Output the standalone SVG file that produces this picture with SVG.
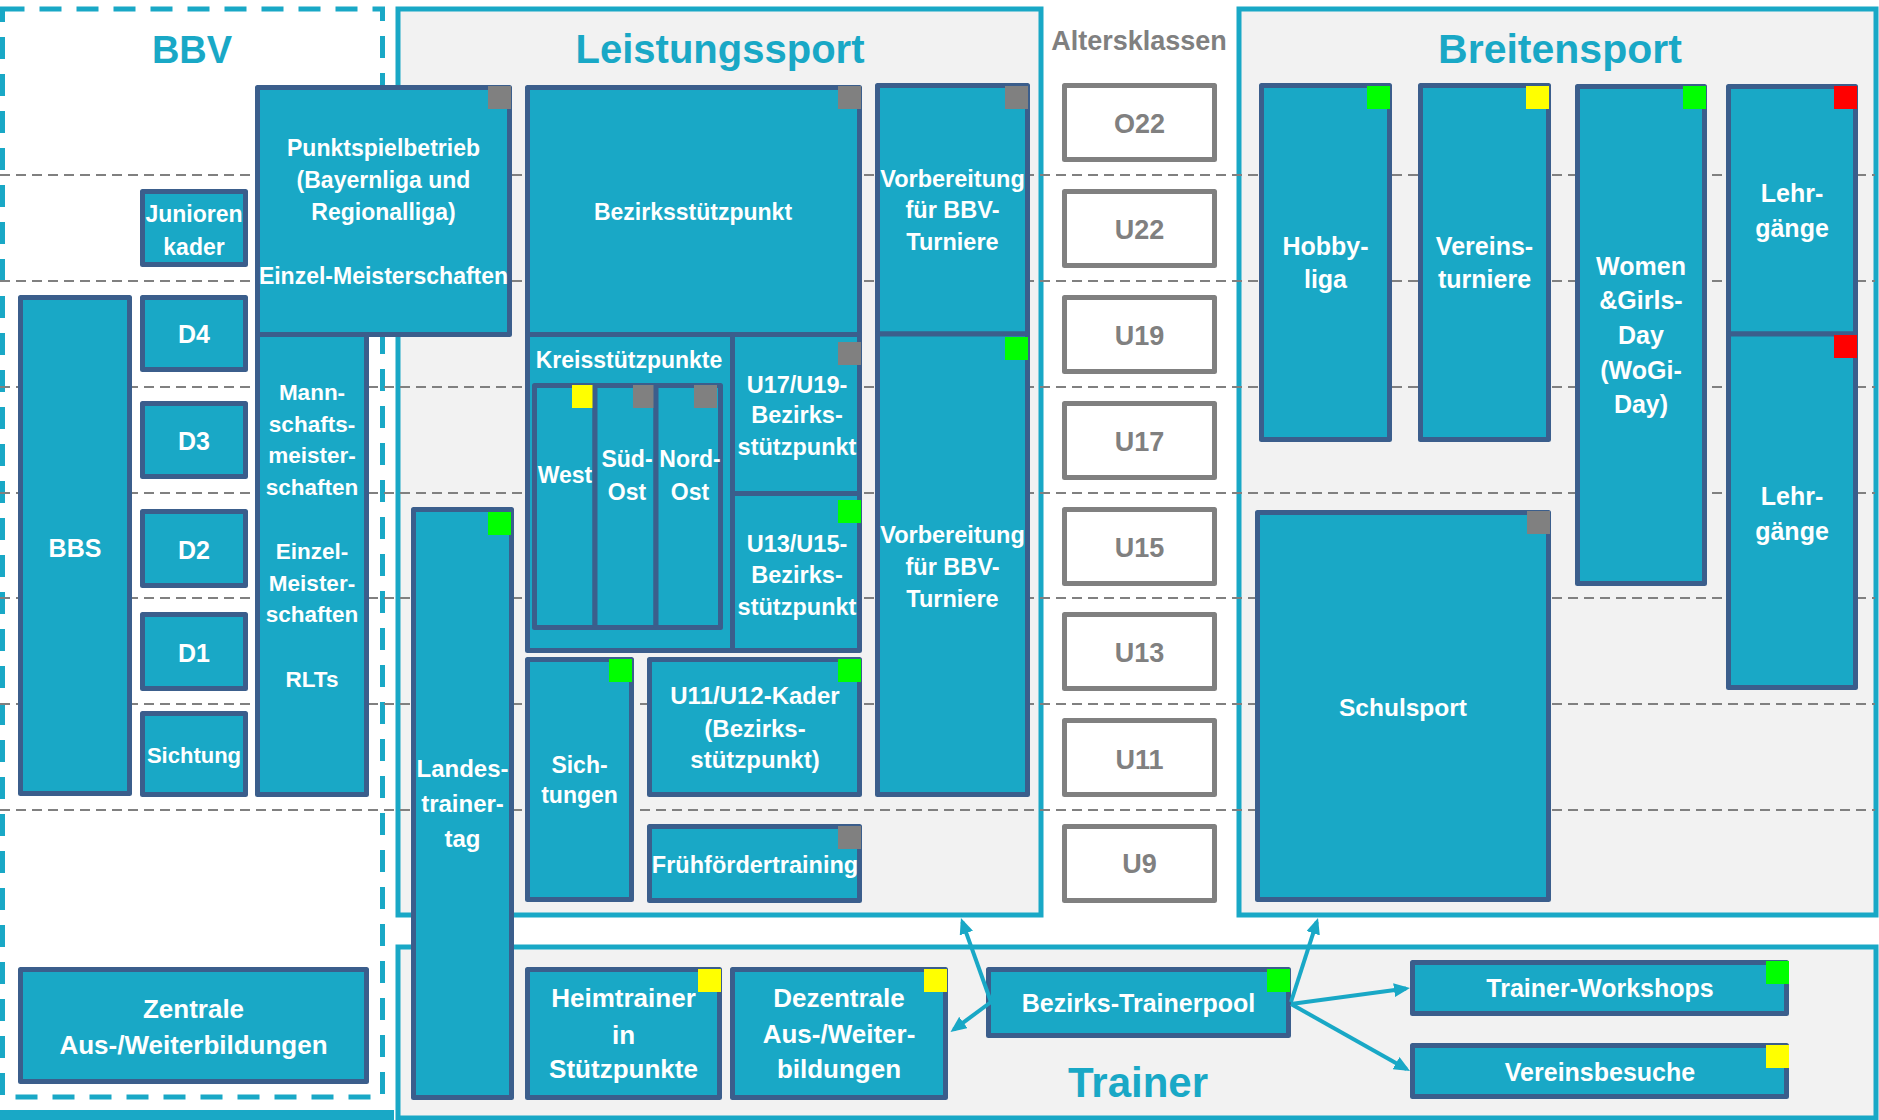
<svg xmlns="http://www.w3.org/2000/svg" width="1879" height="1120" viewBox="0 0 1879 1120">
<style>
.box{fill:#f2f2f2;stroke:#19a8c6;stroke-width:5}
.n{fill:#19a8c6;stroke:#3b5e8c;stroke-width:5;stroke-linejoin:round}
.age{fill:#fff;stroke:#808080;stroke-width:5;stroke-linejoin:round}
.t{font-family:"Liberation Sans",Arial,sans-serif;font-weight:bold;fill:#fff;text-anchor:middle}
.at{font-family:"Liberation Sans",Arial,sans-serif;font-weight:bold;fill:#808080;text-anchor:middle;font-size:27px}
.title{font-family:"Liberation Sans",Arial,sans-serif;font-weight:bold;fill:#19a8c6;text-anchor:middle}
.grid{stroke:#808080;stroke-width:2;stroke-dasharray:10 6;fill:none}
.gray{fill:#808080}.green{fill:#00ff00}.yellow{fill:#ffff00}.red{fill:#ff0000}
.c{stroke:#19a8c6;stroke-width:4;fill:none;marker-end:url(#ah)}
</style>
<defs>
<marker id="ah" viewBox="0 0 16 14" refX="12" refY="7" markerWidth="16" markerHeight="14" markerUnits="userSpaceOnUse" orient="auto">
<path d="M0,0 L16,7 L0,14 z" fill="#19a8c6"/>
</marker>
</defs>
<rect x="0" y="0" width="1879" height="1120" fill="#fff"/>

<g id="groups">
<rect x="2.5" y="9" width="380" height="1088" fill="none" stroke="#19a8c6" stroke-width="5" stroke-dasharray="22 15"/>
<rect class="box" x="398" y="9" width="643" height="906"/>
<rect class="box" x="1239" y="9" width="637" height="906"/>
<rect class="box" x="398" y="947" width="1478" height="171"/>
<rect x="0" y="1110" width="394" height="10" fill="#19a8c6"/>
</g>

<g id="gridlines">
<line class="grid" x1="0" y1="175" x2="1875" y2="175"/>
<line class="grid" x1="0" y1="281" x2="1875" y2="281"/>
<line class="grid" x1="0" y1="387" x2="1875" y2="387"/>
<line class="grid" x1="0" y1="493" x2="1875" y2="493"/>
<line class="grid" x1="0" y1="598" x2="1875" y2="598"/>
<line class="grid" x1="0" y1="704" x2="1875" y2="704"/>
<line class="grid" x1="0" y1="810" x2="1875" y2="810"/>
</g>

<g id="titles">
<text class="title" x="192" y="63" font-size="38">BBV</text>
<text class="title" x="720" y="63" font-size="40">Leistungssport</text>
<text class="title" x="1560" y="63" font-size="41">Breitensport</text>
<text class="title" x="1138" y="1097" font-size="42">Trainer</text>
<text class="at" x="1139" y="50">Altersklassen</text>
</g>

<g id="age-o22"><rect class="age" x="1064.5" y="85.5" width="150" height="74"/><text class="at" x="1139.5" y="133">O22</text></g>
<g id="age-u22"><rect class="age" x="1064.5" y="191.5" width="150" height="74"/><text class="at" x="1139.5" y="239">U22</text></g>
<g id="age-u19"><rect class="age" x="1064.5" y="297.5" width="150" height="74"/><text class="at" x="1139.5" y="345">U19</text></g>
<g id="age-u17"><rect class="age" x="1064.5" y="403.5" width="150" height="74"/><text class="at" x="1139.5" y="451">U17</text></g>
<g id="age-u15"><rect class="age" x="1064.5" y="509.5" width="150" height="74"/><text class="at" x="1139.5" y="557">U15</text></g>
<g id="age-u13"><rect class="age" x="1064.5" y="614.5" width="150" height="74"/><text class="at" x="1139.5" y="662">U13</text></g>
<g id="age-u11"><rect class="age" x="1064.5" y="720.5" width="150" height="74"/><text class="at" x="1139.5" y="769">U11</text></g>
<g id="age-u9"><rect class="age" x="1064.5" y="826.5" width="150" height="74"/><text class="at" x="1139.5" y="873">U9</text></g>

<!-- BBV -->
<g id="punktspielbetrieb"><rect class="n" x="257.5" y="87.5" width="252" height="247"/><rect class="gray" x="488" y="86" width="23" height="23"/>
<text class="t" font-size="23"><tspan x="383.5" y="156">Punktspielbetrieb</tspan><tspan x="383.5" y="188">(Bayernliga und</tspan><tspan x="383.5" y="220">Regionalliga)</tspan><tspan x="383.5" y="284">Einzel-Meisterschaften</tspan></text></g>
<g id="juniorenkader"><rect class="n" x="142.5" y="191.5" width="103" height="73"/>
<text class="t" font-size="23"><tspan x="194" y="222">Junioren</tspan><tspan x="194" y="255">kader</tspan></text></g>
<g id="d4"><rect class="n" x="142.5" y="297.5" width="103" height="72"/><text class="t" font-size="25" x="194" y="343">D4</text></g>
<g id="d3"><rect class="n" x="142.5" y="403.5" width="103" height="73"/><text class="t" font-size="25" x="194" y="450">D3</text></g>
<g id="d2"><rect class="n" x="142.5" y="511.5" width="103" height="74"/><text class="t" font-size="25" x="194" y="559">D2</text></g>
<g id="d1"><rect class="n" x="142.5" y="614.5" width="103" height="74"/><text class="t" font-size="25" x="194" y="662">D1</text></g>
<g id="sichtung"><rect class="n" x="142.5" y="713.5" width="103" height="81"/><text class="t" font-size="22" x="194" y="763">Sichtung</text></g>
<g id="bbs"><rect class="n" x="20.5" y="297.5" width="109" height="496"/><text class="t" font-size="25" x="75" y="557">BBS</text></g>
<g id="mannschaftsmeisterschaften"><rect class="n" x="257.5" y="334.5" width="109" height="460"/>
<text class="t" font-size="22.5"><tspan x="312" y="400">Mann-</tspan><tspan x="312" y="432">schafts-</tspan><tspan x="312" y="463">meister-</tspan><tspan x="312" y="495">schaften</tspan><tspan x="312" y="559">Einzel-</tspan><tspan x="312" y="591">Meister-</tspan><tspan x="312" y="622">schaften</tspan><tspan x="312" y="687">RLTs</tspan></text></g>
<g id="zentrale"><rect class="n" x="20.5" y="969.5" width="346" height="112"/>
<text class="t" font-size="26"><tspan x="193.5" y="1018">Zentrale</tspan><tspan x="193.5" y="1054">Aus-/Weiterbildungen</tspan></text></g>

<!-- Leistungssport -->
<g id="bezirksstuetzpunkt"><rect class="n" x="527.5" y="87.5" width="332" height="247"/><rect class="gray" x="838" y="86" width="23" height="23"/>
<text class="t" font-size="23" x="693" y="220">Bezirksstützpunkt</text></g>
<g id="vorbereitung1"><rect class="n" x="877.5" y="85.5" width="150" height="248.5"/><rect class="gray" x="1005" y="86" width="23" height="23"/>
<text class="t" font-size="23.5"><tspan x="952.5" y="187">Vorbereitung</tspan><tspan x="952.5" y="218">für BBV-</tspan><tspan x="952.5" y="250">Turniere</tspan></text></g>
<g id="vorbereitung2"><rect class="n" x="877.5" y="334" width="150" height="460.5"/><rect class="green" x="1005" y="337" width="23" height="23"/>
<text class="t" font-size="23.5"><tspan x="952.5" y="543">Vorbereitung</tspan><tspan x="952.5" y="575">für BBV-</tspan><tspan x="952.5" y="607">Turniere</tspan></text></g>
<g id="kreisstuetzpunkte"><rect class="n" x="527.5" y="334.5" width="205" height="316"/>
<text class="t" font-size="23" x="629" y="368">Kreisstützpunkte</text></g>
<g id="west"><rect class="n" x="534.5" y="385.5" width="60.5" height="242"/><rect class="yellow" x="572" y="385" width="23" height="23"/>
<text class="t" font-size="23" x="565" y="483">West</text></g>
<g id="suedost"><rect class="n" x="595" y="385.5" width="61" height="242"/><rect class="gray" x="633" y="385" width="23" height="23"/>
<text class="t" font-size="23"><tspan x="627" y="467">Süd-</tspan><tspan x="627" y="500">Ost</tspan></text></g>
<g id="nordost"><rect class="n" x="656" y="385.5" width="64.5" height="242"/><rect class="gray" x="694" y="385" width="23" height="23"/>
<text class="t" font-size="23"><tspan x="690" y="467">Nord-</tspan><tspan x="690" y="500">Ost</tspan></text></g>
<g id="u17u19"><rect class="n" x="732.5" y="334.5" width="127" height="159"/><rect class="gray" x="838" y="342" width="23" height="23"/>
<text class="t" font-size="23.5"><tspan x="797" y="393">U17/U19-</tspan><tspan x="797" y="423">Bezirks-</tspan><tspan x="797" y="455">stützpunkt</tspan></text></g>
<g id="u13u15"><rect class="n" x="732.5" y="493.5" width="127" height="157"/><rect class="green" x="838" y="500" width="23" height="23"/>
<text class="t" font-size="23.5"><tspan x="797" y="552">U13/U15-</tspan><tspan x="797" y="583">Bezirks-</tspan><tspan x="797" y="615">stützpunkt</tspan></text></g>
<g id="sichtungen"><rect class="n" x="527.5" y="659.5" width="104" height="240"/><rect class="green" x="609" y="659" width="23" height="23"/>
<text class="t" font-size="23"><tspan x="579.5" y="773">Sich-</tspan><tspan x="579.5" y="803">tungen</tspan></text></g>
<g id="u11u12kader"><rect class="n" x="649.5" y="659.5" width="210" height="135"/><rect class="green" x="838" y="659" width="23" height="23"/>
<text class="t" font-size="24"><tspan x="755" y="704">U11/U12-Kader</tspan><tspan x="755" y="737">(Bezirks-</tspan><tspan x="755" y="768">stützpunkt)</tspan></text></g>
<g id="fruehfoerdertraining"><rect class="n" x="649.5" y="826.5" width="210" height="74"/><rect class="gray" x="838" y="826" width="23" height="23"/>
<text class="t" font-size="23.5" x="755" y="873">Frühfördertraining</text></g>
<g id="landestrainertag"><rect class="n" x="413.5" y="509.5" width="98" height="588"/><rect class="green" x="488" y="512" width="23" height="23"/>
<text class="t" font-size="24"><tspan x="462.5" y="777">Landes-</tspan><tspan x="462.5" y="812">trainer-</tspan><tspan x="462.5" y="847">tag</tspan></text></g>

<!-- Breitensport -->
<g id="hobbyliga"><rect class="n" x="1261.5" y="85.5" width="128" height="354"/><rect class="green" x="1367" y="86" width="23" height="23"/>
<text class="t" font-size="25"><tspan x="1325.5" y="255">Hobby-</tspan><tspan x="1325.5" y="288">liga</tspan></text></g>
<g id="vereinsturniere"><rect class="n" x="1420.5" y="85.5" width="128" height="354"/><rect class="yellow" x="1526" y="86" width="23" height="23"/>
<text class="t" font-size="25"><tspan x="1484.5" y="255">Vereins-</tspan><tspan x="1484.5" y="288">turniere</tspan></text></g>
<g id="wogiday"><rect class="n" x="1577.5" y="86.5" width="127" height="497"/><rect class="green" x="1683" y="86" width="23" height="23"/>
<text class="t" font-size="25"><tspan x="1641" y="275">Women</tspan><tspan x="1641" y="309">&amp;Girls-</tspan><tspan x="1641" y="344">Day</tspan><tspan x="1641" y="379">(WoGi-</tspan><tspan x="1641" y="413">Day)</tspan></text></g>
<g id="lehrgaenge1"><rect class="n" x="1728.5" y="86.5" width="127" height="247.5"/><rect class="red" x="1834" y="86" width="23" height="23"/>
<text class="t" font-size="25"><tspan x="1792" y="202">Lehr-</tspan><tspan x="1792" y="237">gänge</tspan></text></g>
<g id="lehrgaenge2"><rect class="n" x="1728.5" y="334" width="127" height="353.5"/><rect class="red" x="1834" y="335" width="23" height="23"/>
<text class="t" font-size="25"><tspan x="1792" y="505">Lehr-</tspan><tspan x="1792" y="540">gänge</tspan></text></g>
<g id="schulsport"><rect class="n" x="1257.5" y="512.5" width="291" height="387"/><rect class="gray" x="1527" y="511" width="23" height="23"/>
<text class="t" font-size="24.5" x="1403" y="716">Schulsport</text></g>

<!-- Trainer -->
<g id="heimtrainer"><rect class="n" x="527.5" y="969.5" width="192" height="128"/><rect class="yellow" x="698" y="969" width="23" height="23"/>
<text class="t" font-size="26"><tspan x="623.5" y="1007">Heimtrainer</tspan><tspan x="623.5" y="1044">in</tspan><tspan x="623.5" y="1078">Stützpunkte</tspan></text></g>
<g id="dezentrale"><rect class="n" x="732.5" y="969.5" width="213" height="128"/><rect class="yellow" x="924" y="969" width="23" height="23"/>
<text class="t" font-size="26"><tspan x="839" y="1007">Dezentrale</tspan><tspan x="839" y="1043">Aus-/Weiter-</tspan><tspan x="839" y="1078">bildungen</tspan></text></g>
<g id="trainerpool"><rect class="n" x="988.5" y="969.5" width="300" height="66"/><rect class="green" x="1267" y="969" width="23" height="23"/>
<text class="t" font-size="25" x="1138.5" y="1012">Bezirks-Trainerpool</text></g>
<g id="workshops"><rect class="n" x="1412.5" y="962.5" width="374" height="51"/><rect class="green" x="1766" y="961" width="23" height="23"/>
<text class="t" font-size="25" x="1600" y="997">Trainer-Workshops</text></g>
<g id="vereinsbesuche"><rect class="n" x="1412.5" y="1045.5" width="374" height="51"/><rect class="yellow" x="1766" y="1045" width="23" height="23"/>
<text class="t" font-size="25" x="1600" y="1081">Vereinsbesuche</text></g>

<g id="connectors">
<path class="c" d="M991,1002 L962.3,921.8"/>
<path class="c" d="M991,1002 L953.7,1029.6"/>
<path class="c" d="M1291,1002 L1316.8,921.8"/>
<path class="c" d="M1291,1004 L1406,988.5"/>
<path class="c" d="M1291,1004 L1406.5,1069"/>
</g>
</svg>
